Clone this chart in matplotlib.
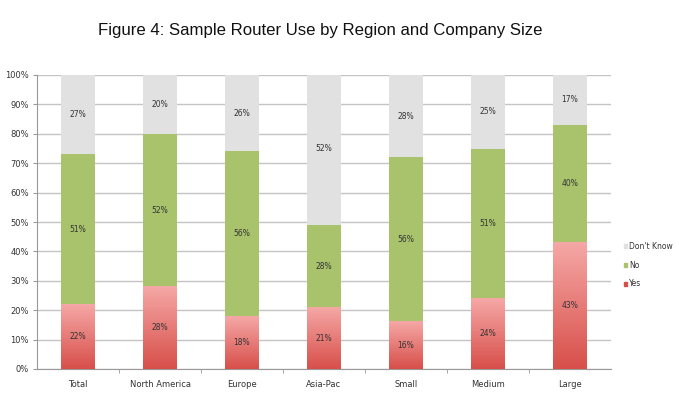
import numpy as np
import matplotlib
matplotlib.use("Agg")
import matplotlib.pyplot as plt
from matplotlib.colors import LinearSegmentedColormap
from matplotlib.patches import Patch

categories = ["Total", "North America", "Europe", "Asia-Pac", "Small", "Medium", "Large"]
yes = [22, 28, 18, 21, 16, 24, 43]
no = [51, 52, 56, 28, 56, 51, 40]
dont_know = [27, 20, 26, 52, 28, 25, 17]

GREEN = "#a8c36b"
GRAY = "#e1e1e1"
RED_TOP = "#f5a8a6"
RED_BOT = "#d84f4a"
TXT = "#333333"

fig = plt.figure(figsize=(6.75, 3.98), dpi=100)
ax = fig.add_axes([37 / 675, 1 - 369 / 398, 574 / 675, 294 / 398])

x = np.arange(len(categories))
w = 0.41
bottom_no = np.array(yes)
bottom_dk = bottom_no + np.array(no)

ax.bar(x, no, w, bottom=bottom_no, color=GREEN, zorder=3)
ax.bar(x, dont_know, w, bottom=bottom_dk, color=GRAY, zorder=3)

# gradient fill for the "Yes" segment
cmap = LinearSegmentedColormap.from_list("yes", [RED_BOT, RED_TOP])
grad = np.linspace(0, 1, 256).reshape(-1, 1)
for xi, v in zip(x, yes):
    ax.imshow(grad, cmap=cmap, origin="lower", aspect="auto",
              extent=(xi - w / 2, xi + w / 2, 0, v), zorder=3)

for xi, y_, n_, d_ in zip(x, yes, no, dont_know):
    ax.text(xi, y_ / 2, f"{y_}%", ha="center", va="center", fontsize=5.5, color=TXT, zorder=4)
    ax.text(xi, y_ + n_ / 2, f"{n_}%", ha="center", va="center", fontsize=5.5, color=TXT, zorder=4)
    ax.text(xi, y_ + n_ + d_ / 2, f"{d_}%", ha="center", va="center", fontsize=5.5, color=TXT, zorder=4)

ax.set_xlim(-0.5, len(categories) - 0.5)
ax.set_ylim(0, 100)
ax.set_yticks(np.arange(0, 101, 10))
ax.set_yticklabels([f"{v}%" for v in range(0, 101, 10)], fontsize=6, color=TXT)
ax.set_xticks(x)
ax.set_xticklabels(categories, fontsize=6, color=TXT)
ax.tick_params(axis="x", length=0, pad=8)
ax.tick_params(axis="y", length=3, color="#999999", pad=3)
ax.set_xticks(np.arange(0.5, len(categories) - 0.5, 1), minor=True)
ax.tick_params(axis="x", which="minor", length=3, color="#999999")

ax.yaxis.grid(True, color="#c4c4c4", linewidth=1, zorder=0)
ax.set_axisbelow(True)
for s in ["top", "right"]:
    ax.spines[s].set_visible(False)
ax.spines["left"].set_color("#999999")
ax.spines["bottom"].set_color("#999999")

handles = [Patch(color=GRAY, label="Don't Know"),
           Patch(color=GREEN, label="No"),
           Patch(color=RED_BOT, label="Yes")]
fig.legend(handles=handles, loc="center left", bbox_to_anchor=(617 / 675, 1 - 265 / 398),
           frameon=False, fontsize=5.5, handlelength=0.4, handleheight=0.4,
           handletextpad=0.3, labelspacing=1.3, labelcolor=TXT)

fig.text(320 / 675, 1 - 30 / 398, "Figure 4: Sample Router Use by Region and Company Size",
         ha="center", va="center", fontsize=12.1, color="#111111",
         family="Liberation Sans", weight="medium")

fig.savefig("out.png", dpi=100)
